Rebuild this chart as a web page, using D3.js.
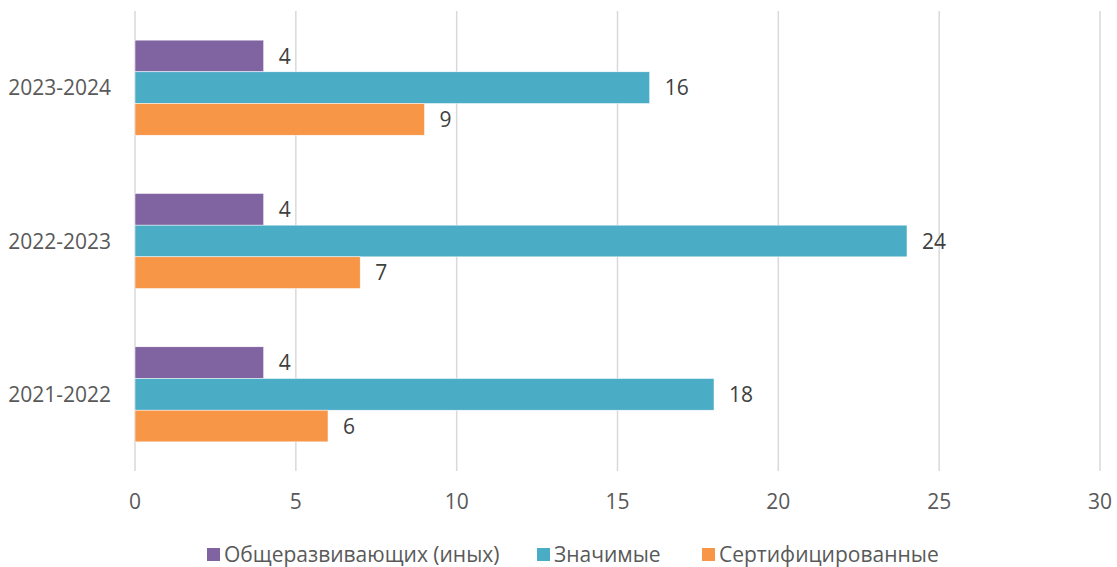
<!DOCTYPE html>
<html>
<head>
<meta charset="utf-8">
<script src="https://cdn.jsdelivr.net/npm/d3@7"></script>
<style>
  html, body { margin: 0; padding: 0; background: #fff; overflow: hidden; }
  svg { display: block; }
  svg text { font-family: "Open Sans", "Noto Sans", sans-serif; font-size: 21px; }
</style>
</head>
<body>
<div id="chart"></div>
<script>
// Chart data
const years = ['2023-2024', '2022-2023', '2021-2022'];
const seriesNames = ['Общеразвивающих (иных)', 'Значимые', 'Сертифицированные'];
const seriesColors = ['#8064A2', '#4BACC6', '#F79646'];
const general = [4, 4, 4];
const significant = [16, 24, 18];
const certified = [9, 7, 6];
const xTicks = [0, 5, 10, 15, 20, 25, 30];

const width = 1117;
const height = 567;
const margin = { top: 11, right: 17, bottom: 96, left: 135 };
const innerWidth = width - margin.left - margin.right;
const innerHeight = height - margin.top - margin.bottom;

const svg = d3.select('#chart')
  .append('svg')
  .attr('width', width)
  .attr('height', height);

const g = svg.append('g')
  .attr('transform', `translate(${margin.left},${margin.top})`);

// Scales
const xScale = d3.scaleLinear()
  .domain([0, 30])
  .range([0, innerWidth]);

const yScale = d3.scaleBand()
  .domain(years)
  .range([0, innerHeight])
  .paddingInner(0.38)
  .paddingOuter(0.19);

const subScale = d3.scaleBand()
  .domain(d3.range(seriesNames.length))
  .range([0, yScale.bandwidth()]);

// Gridlines
g.selectAll('.grid')
  .data(xTicks)
  .enter()
  .append('line')
  .attr('class', 'grid')
  .attr('x1', d => xScale(d))
  .attr('x2', d => xScale(d))
  .attr('y1', 0)
  .attr('y2', innerHeight)
  .attr('stroke', '#d9d9d9')
  .attr('stroke-width', 1.5);

// X tick labels
g.selectAll('.x-label')
  .data(xTicks)
  .enter()
  .append('text')
  .attr('class', 'x-label')
  .attr('x', d => xScale(d))
  .attr('y', innerHeight + 30)
  .attr('dy', '0.36em')
  .attr('text-anchor', 'middle')
  .attr('fill', '#595959')
  .text(d => d);

// Y category labels
g.selectAll('.y-label')
  .data(years)
  .enter()
  .append('text')
  .attr('class', 'y-label')
  .attr('x', -24)
  .attr('y', d => yScale(d) + yScale.bandwidth() / 2)
  .attr('dy', '0.36em')
  .attr('text-anchor', 'end')
  .attr('fill', '#595959')
  .text(d => d);

// Bars
const rows = years.map((year, i) => ({
  year,
  values: [general[i], significant[i], certified[i]]
}));

const groups = g.selectAll('.group')
  .data(rows)
  .enter()
  .append('g')
  .attr('class', 'group')
  .attr('transform', d => `translate(0,${yScale(d.year)})`);

groups.selectAll('rect')
  .data(d => d.values.map((v, j) => ({ v, j })))
  .enter()
  .append('rect')
  .attr('x', 0)
  .attr('y', d => subScale(d.j))
  .attr('width', d => xScale(d.v))
  .attr('height', subScale.bandwidth())
  .attr('fill', d => seriesColors[d.j])
  .attr('stroke', '#fff')
  .attr('stroke-width', 0.5);

groups.selectAll('.val')
  .data(d => d.values.map((v, j) => ({ v, j })))
  .enter()
  .append('text')
  .attr('class', 'val')
  .attr('x', d => xScale(d.v) + 15)
  .attr('y', d => subScale(d.j) + subScale.bandwidth() / 2)
  .attr('dy', '0.36em')
  .attr('fill', '#404040')
  .text(d => d.v);

// Legend
const legendX = [207, 537, 702];
const legend = svg.append('g')
  .attr('transform', `translate(0,554)`);

const items = legend.selectAll('.item')
  .data(seriesNames)
  .enter()
  .append('g')
  .attr('class', 'item')
  .attr('transform', (d, i) => `translate(${legendX[i]},0)`);

items.append('rect')
  .attr('x', 0)
  .attr('y', -6)
  .attr('width', 13)
  .attr('height', 13)
  .attr('fill', (d, i) => seriesColors[i]);

items.append('text')
  .attr('x', 17)
  .attr('y', 0)
  .attr('dy', '0.36em')
  .attr('fill', '#595959')
  .text(d => d);
</script>
</body>
</html>
